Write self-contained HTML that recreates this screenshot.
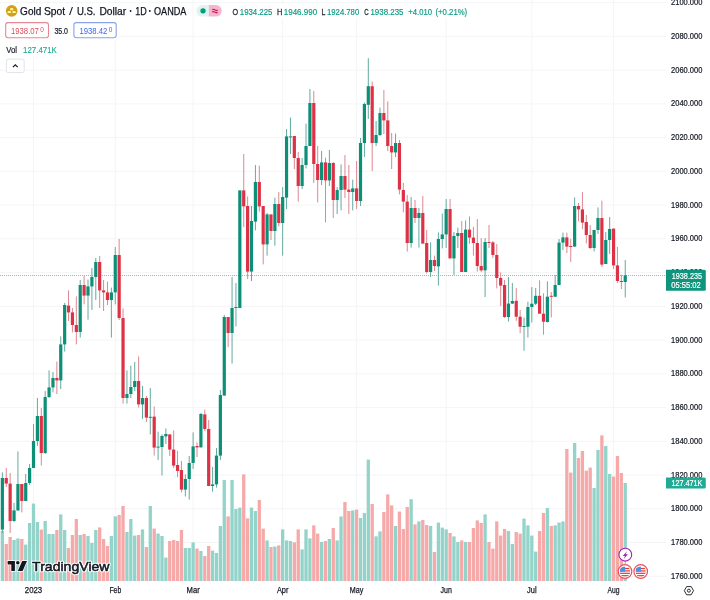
<!DOCTYPE html>
<html><head><meta charset="utf-8">
<style>
html,body{margin:0;padding:0;background:#fff;}
body{width:710px;height:600px;overflow:hidden;position:relative;font-family:"Liberation Sans",sans-serif;}
svg{position:absolute;left:0;top:0;will-change:transform;}
</style></head><body>
<svg width="710" height="600" viewBox="0 0 710 600" font-family="Liberation Sans, sans-serif">
<rect width="710" height="600" fill="#fff"/>
<rect x="0" y="2.16" width="666" height="1" fill="#f4f5f7"/>
<rect x="0" y="35.90" width="666" height="1" fill="#f4f5f7"/>
<rect x="0" y="69.64" width="666" height="1" fill="#f4f5f7"/>
<rect x="0" y="103.38" width="666" height="1" fill="#f4f5f7"/>
<rect x="0" y="137.12" width="666" height="1" fill="#f4f5f7"/>
<rect x="0" y="170.86" width="666" height="1" fill="#f4f5f7"/>
<rect x="0" y="204.60" width="666" height="1" fill="#f4f5f7"/>
<rect x="0" y="238.34" width="666" height="1" fill="#f4f5f7"/>
<rect x="0" y="272.08" width="666" height="1" fill="#f4f5f7"/>
<rect x="0" y="305.82" width="666" height="1" fill="#f4f5f7"/>
<rect x="0" y="339.56" width="666" height="1" fill="#f4f5f7"/>
<rect x="0" y="373.30" width="666" height="1" fill="#f4f5f7"/>
<rect x="0" y="407.04" width="666" height="1" fill="#f4f5f7"/>
<rect x="0" y="440.78" width="666" height="1" fill="#f4f5f7"/>
<rect x="0" y="474.52" width="666" height="1" fill="#f4f5f7"/>
<rect x="0" y="508.26" width="666" height="1" fill="#f4f5f7"/>
<rect x="0" y="542.00" width="666" height="1" fill="#f4f5f7"/>
<rect x="0" y="575.74" width="666" height="1" fill="#f4f5f7"/>
<rect x="33.00" y="0" width="1" height="581" fill="#f4f5f7"/>
<rect x="114.76" y="0" width="1" height="581" fill="#f4f5f7"/>
<rect x="192.62" y="0" width="1" height="581" fill="#f4f5f7"/>
<rect x="282.16" y="0" width="1" height="581" fill="#f4f5f7"/>
<rect x="356.12" y="0" width="1" height="581" fill="#f4f5f7"/>
<rect x="445.66" y="0" width="1" height="581" fill="#f4f5f7"/>
<rect x="531.31" y="0" width="1" height="581" fill="#f4f5f7"/>
<rect x="613.06" y="0" width="1" height="581" fill="#f4f5f7"/>
<rect x="0.71" y="531.0" width="3.3" height="50.0" fill="#93d3c9"/>
<rect x="4.60" y="544.0" width="3.3" height="37.0" fill="#f6a9a9"/>
<rect x="8.50" y="537.0" width="3.3" height="44.0" fill="#f6a9a9"/>
<rect x="12.39" y="540.0" width="3.3" height="41.0" fill="#93d3c9"/>
<rect x="16.28" y="538.4" width="3.3" height="42.6" fill="#93d3c9"/>
<rect x="20.18" y="539.0" width="3.3" height="42.0" fill="#f6a9a9"/>
<rect x="24.07" y="544.6" width="3.3" height="36.4" fill="#93d3c9"/>
<rect x="27.96" y="523.0" width="3.3" height="58.0" fill="#93d3c9"/>
<rect x="31.85" y="503.6" width="3.3" height="77.4" fill="#93d3c9"/>
<rect x="35.75" y="522.0" width="3.3" height="59.0" fill="#93d3c9"/>
<rect x="39.64" y="529.6" width="3.3" height="51.4" fill="#f6a9a9"/>
<rect x="43.53" y="521.0" width="3.3" height="60.0" fill="#93d3c9"/>
<rect x="47.43" y="534.0" width="3.3" height="47.0" fill="#93d3c9"/>
<rect x="51.32" y="534.0" width="3.3" height="47.0" fill="#93d3c9"/>
<rect x="55.21" y="530.0" width="3.3" height="51.0" fill="#f6a9a9"/>
<rect x="59.10" y="514.4" width="3.3" height="66.6" fill="#93d3c9"/>
<rect x="63.00" y="530.0" width="3.3" height="51.0" fill="#93d3c9"/>
<rect x="66.89" y="548.0" width="3.3" height="33.0" fill="#f6a9a9"/>
<rect x="70.78" y="535.0" width="3.3" height="46.0" fill="#f6a9a9"/>
<rect x="74.68" y="519.0" width="3.3" height="62.0" fill="#f6a9a9"/>
<rect x="78.57" y="535.0" width="3.3" height="46.0" fill="#93d3c9"/>
<rect x="82.46" y="534.0" width="3.3" height="47.0" fill="#f6a9a9"/>
<rect x="86.36" y="536.0" width="3.3" height="45.0" fill="#93d3c9"/>
<rect x="90.25" y="543.0" width="3.3" height="38.0" fill="#93d3c9"/>
<rect x="94.14" y="530.0" width="3.3" height="51.0" fill="#93d3c9"/>
<rect x="98.03" y="527.4" width="3.3" height="53.6" fill="#f6a9a9"/>
<rect x="101.93" y="539.0" width="3.3" height="42.0" fill="#f6a9a9"/>
<rect x="105.82" y="546.0" width="3.3" height="35.0" fill="#f6a9a9"/>
<rect x="109.71" y="536.0" width="3.3" height="45.0" fill="#93d3c9"/>
<rect x="113.61" y="516.4" width="3.3" height="64.6" fill="#93d3c9"/>
<rect x="117.50" y="515.0" width="3.3" height="66.0" fill="#f6a9a9"/>
<rect x="121.39" y="506.0" width="3.3" height="75.0" fill="#f6a9a9"/>
<rect x="125.29" y="532.0" width="3.3" height="49.0" fill="#93d3c9"/>
<rect x="129.18" y="519.0" width="3.3" height="62.0" fill="#93d3c9"/>
<rect x="133.07" y="535.6" width="3.3" height="45.4" fill="#93d3c9"/>
<rect x="136.97" y="535.0" width="3.3" height="46.0" fill="#f6a9a9"/>
<rect x="140.86" y="529.4" width="3.3" height="51.6" fill="#93d3c9"/>
<rect x="144.75" y="547.0" width="3.3" height="34.0" fill="#f6a9a9"/>
<rect x="148.64" y="506.0" width="3.3" height="75.0" fill="#93d3c9"/>
<rect x="152.54" y="528.6" width="3.3" height="52.4" fill="#f6a9a9"/>
<rect x="156.43" y="533.6" width="3.3" height="47.4" fill="#93d3c9"/>
<rect x="160.32" y="536.0" width="3.3" height="45.0" fill="#93d3c9"/>
<rect x="164.22" y="557.6" width="3.3" height="23.4" fill="#93d3c9"/>
<rect x="168.11" y="541.0" width="3.3" height="40.0" fill="#f6a9a9"/>
<rect x="172.00" y="540.0" width="3.3" height="41.0" fill="#f6a9a9"/>
<rect x="175.90" y="541.0" width="3.3" height="40.0" fill="#f6a9a9"/>
<rect x="179.79" y="530.0" width="3.3" height="51.0" fill="#f6a9a9"/>
<rect x="183.68" y="548.0" width="3.3" height="33.0" fill="#93d3c9"/>
<rect x="187.57" y="548.0" width="3.3" height="33.0" fill="#93d3c9"/>
<rect x="191.47" y="542.4" width="3.3" height="38.6" fill="#93d3c9"/>
<rect x="195.36" y="548.6" width="3.3" height="32.4" fill="#f6a9a9"/>
<rect x="199.25" y="551.0" width="3.3" height="30.0" fill="#93d3c9"/>
<rect x="203.15" y="556.0" width="3.3" height="25.0" fill="#f6a9a9"/>
<rect x="207.04" y="546.0" width="3.3" height="35.0" fill="#f6a9a9"/>
<rect x="210.93" y="550.6" width="3.3" height="30.4" fill="#93d3c9"/>
<rect x="214.82" y="553.0" width="3.3" height="28.0" fill="#93d3c9"/>
<rect x="218.72" y="526.0" width="3.3" height="55.0" fill="#93d3c9"/>
<rect x="222.61" y="480.0" width="3.3" height="101.0" fill="#93d3c9"/>
<rect x="226.50" y="516.4" width="3.3" height="64.6" fill="#f6a9a9"/>
<rect x="230.40" y="480.0" width="3.3" height="101.0" fill="#93d3c9"/>
<rect x="234.29" y="509.0" width="3.3" height="72.0" fill="#93d3c9"/>
<rect x="238.18" y="507.6" width="3.3" height="73.4" fill="#93d3c9"/>
<rect x="242.08" y="474.4" width="3.3" height="106.6" fill="#f6a9a9"/>
<rect x="245.97" y="518.4" width="3.3" height="62.6" fill="#f6a9a9"/>
<rect x="249.86" y="507.6" width="3.3" height="73.4" fill="#93d3c9"/>
<rect x="253.75" y="511.0" width="3.3" height="70.0" fill="#93d3c9"/>
<rect x="257.65" y="500.0" width="3.3" height="81.0" fill="#f6a9a9"/>
<rect x="261.54" y="528.6" width="3.3" height="52.4" fill="#f6a9a9"/>
<rect x="265.43" y="540.4" width="3.3" height="40.6" fill="#93d3c9"/>
<rect x="269.33" y="547.0" width="3.3" height="34.0" fill="#f6a9a9"/>
<rect x="273.22" y="546.5" width="3.3" height="34.5" fill="#93d3c9"/>
<rect x="277.11" y="545.4" width="3.3" height="35.6" fill="#f6a9a9"/>
<rect x="281.01" y="529.4" width="3.3" height="51.6" fill="#93d3c9"/>
<rect x="284.90" y="540.4" width="3.3" height="40.6" fill="#93d3c9"/>
<rect x="288.79" y="541.0" width="3.3" height="40.0" fill="#93d3c9"/>
<rect x="292.69" y="542.4" width="3.3" height="38.6" fill="#f6a9a9"/>
<rect x="296.58" y="529.4" width="3.3" height="51.6" fill="#f6a9a9"/>
<rect x="300.47" y="549.4" width="3.3" height="31.6" fill="#93d3c9"/>
<rect x="304.36" y="529.4" width="3.3" height="51.6" fill="#93d3c9"/>
<rect x="308.26" y="538.4" width="3.3" height="42.6" fill="#93d3c9"/>
<rect x="312.15" y="525.4" width="3.3" height="55.6" fill="#f6a9a9"/>
<rect x="316.04" y="533.6" width="3.3" height="47.4" fill="#f6a9a9"/>
<rect x="319.94" y="542.0" width="3.3" height="39.0" fill="#93d3c9"/>
<rect x="323.83" y="541.0" width="3.3" height="40.0" fill="#f6a9a9"/>
<rect x="327.72" y="539.0" width="3.3" height="42.0" fill="#93d3c9"/>
<rect x="331.62" y="528.0" width="3.3" height="53.0" fill="#f6a9a9"/>
<rect x="335.51" y="540.4" width="3.3" height="40.6" fill="#93d3c9"/>
<rect x="339.40" y="516.4" width="3.3" height="64.6" fill="#93d3c9"/>
<rect x="343.29" y="502.0" width="3.3" height="79.0" fill="#f6a9a9"/>
<rect x="347.19" y="511.0" width="3.3" height="70.0" fill="#f6a9a9"/>
<rect x="351.08" y="510.4" width="3.3" height="70.6" fill="#93d3c9"/>
<rect x="354.97" y="509.6" width="3.3" height="71.4" fill="#f6a9a9"/>
<rect x="358.87" y="518.0" width="3.3" height="63.0" fill="#93d3c9"/>
<rect x="362.76" y="513.0" width="3.3" height="68.0" fill="#93d3c9"/>
<rect x="366.65" y="459.6" width="3.3" height="121.4" fill="#93d3c9"/>
<rect x="370.55" y="504.0" width="3.3" height="77.0" fill="#f6a9a9"/>
<rect x="374.44" y="536.4" width="3.3" height="44.6" fill="#93d3c9"/>
<rect x="378.33" y="531.4" width="3.3" height="49.6" fill="#93d3c9"/>
<rect x="382.22" y="512.0" width="3.3" height="69.0" fill="#f6a9a9"/>
<rect x="386.12" y="494.4" width="3.3" height="86.6" fill="#f6a9a9"/>
<rect x="390.01" y="505.4" width="3.3" height="75.6" fill="#f6a9a9"/>
<rect x="393.90" y="526.0" width="3.3" height="55.0" fill="#93d3c9"/>
<rect x="397.80" y="511.6" width="3.3" height="69.4" fill="#f6a9a9"/>
<rect x="401.69" y="529.0" width="3.3" height="52.0" fill="#f6a9a9"/>
<rect x="405.58" y="507.0" width="3.3" height="74.0" fill="#f6a9a9"/>
<rect x="409.48" y="499.2" width="3.3" height="81.8" fill="#93d3c9"/>
<rect x="413.37" y="524.4" width="3.3" height="56.6" fill="#f6a9a9"/>
<rect x="417.26" y="521.4" width="3.3" height="59.6" fill="#93d3c9"/>
<rect x="421.15" y="520.0" width="3.3" height="61.0" fill="#f6a9a9"/>
<rect x="425.05" y="525.0" width="3.3" height="56.0" fill="#f6a9a9"/>
<rect x="428.94" y="526.0" width="3.3" height="55.0" fill="#93d3c9"/>
<rect x="432.83" y="552.0" width="3.3" height="29.0" fill="#f6a9a9"/>
<rect x="436.73" y="522.6" width="3.3" height="58.4" fill="#93d3c9"/>
<rect x="440.62" y="527.6" width="3.3" height="53.4" fill="#93d3c9"/>
<rect x="444.51" y="529.4" width="3.3" height="51.6" fill="#93d3c9"/>
<rect x="448.41" y="533.0" width="3.3" height="48.0" fill="#f6a9a9"/>
<rect x="452.30" y="536.4" width="3.3" height="44.6" fill="#93d3c9"/>
<rect x="456.19" y="542.0" width="3.3" height="39.0" fill="#93d3c9"/>
<rect x="460.08" y="540.4" width="3.3" height="40.6" fill="#f6a9a9"/>
<rect x="463.98" y="542.0" width="3.3" height="39.0" fill="#93d3c9"/>
<rect x="467.87" y="542.0" width="3.3" height="39.0" fill="#f6a9a9"/>
<rect x="471.76" y="528.0" width="3.3" height="53.0" fill="#f6a9a9"/>
<rect x="475.66" y="520.4" width="3.3" height="60.6" fill="#f6a9a9"/>
<rect x="479.55" y="523.0" width="3.3" height="58.0" fill="#f6a9a9"/>
<rect x="483.44" y="514.4" width="3.3" height="66.6" fill="#93d3c9"/>
<rect x="487.34" y="542.0" width="3.3" height="39.0" fill="#f6a9a9"/>
<rect x="491.23" y="548.6" width="3.3" height="32.4" fill="#f6a9a9"/>
<rect x="495.12" y="521.4" width="3.3" height="59.6" fill="#f6a9a9"/>
<rect x="499.01" y="535.6" width="3.3" height="45.4" fill="#f6a9a9"/>
<rect x="502.91" y="529.0" width="3.3" height="52.0" fill="#f6a9a9"/>
<rect x="506.80" y="531.0" width="3.3" height="50.0" fill="#93d3c9"/>
<rect x="510.69" y="544.0" width="3.3" height="37.0" fill="#93d3c9"/>
<rect x="514.59" y="532.0" width="3.3" height="49.0" fill="#f6a9a9"/>
<rect x="518.48" y="533.6" width="3.3" height="47.4" fill="#f6a9a9"/>
<rect x="522.37" y="518.6" width="3.3" height="62.4" fill="#93d3c9"/>
<rect x="526.26" y="525.4" width="3.3" height="55.6" fill="#93d3c9"/>
<rect x="530.16" y="535.6" width="3.3" height="45.4" fill="#93d3c9"/>
<rect x="534.05" y="551.6" width="3.3" height="29.4" fill="#93d3c9"/>
<rect x="537.94" y="531.0" width="3.3" height="50.0" fill="#f6a9a9"/>
<rect x="541.84" y="513.0" width="3.3" height="68.0" fill="#f6a9a9"/>
<rect x="545.73" y="508.0" width="3.3" height="73.0" fill="#93d3c9"/>
<rect x="549.62" y="526.0" width="3.3" height="55.0" fill="#f6a9a9"/>
<rect x="553.52" y="525.4" width="3.3" height="55.6" fill="#93d3c9"/>
<rect x="557.41" y="522.6" width="3.3" height="58.4" fill="#93d3c9"/>
<rect x="561.30" y="521.4" width="3.3" height="59.6" fill="#93d3c9"/>
<rect x="565.20" y="449.0" width="3.3" height="132.0" fill="#f6a9a9"/>
<rect x="569.09" y="472.6" width="3.3" height="108.4" fill="#f6a9a9"/>
<rect x="572.98" y="443.0" width="3.3" height="138.0" fill="#93d3c9"/>
<rect x="576.87" y="458.0" width="3.3" height="123.0" fill="#f6a9a9"/>
<rect x="580.77" y="451.0" width="3.3" height="130.0" fill="#f6a9a9"/>
<rect x="584.66" y="470.6" width="3.3" height="110.4" fill="#f6a9a9"/>
<rect x="588.55" y="467.6" width="3.3" height="113.4" fill="#f6a9a9"/>
<rect x="592.45" y="488.0" width="3.3" height="93.0" fill="#93d3c9"/>
<rect x="596.34" y="450.0" width="3.3" height="131.0" fill="#93d3c9"/>
<rect x="600.23" y="435.4" width="3.3" height="145.6" fill="#f6a9a9"/>
<rect x="604.12" y="446.0" width="3.3" height="135.0" fill="#93d3c9"/>
<rect x="608.02" y="474.0" width="3.3" height="107.0" fill="#93d3c9"/>
<rect x="611.91" y="476.6" width="3.3" height="104.4" fill="#f6a9a9"/>
<rect x="615.80" y="456.0" width="3.3" height="125.0" fill="#f6a9a9"/>
<rect x="619.70" y="473.0" width="3.3" height="108.0" fill="#f6a9a9"/>
<rect x="623.59" y="483.0" width="3.3" height="98.0" fill="#93d3c9"/>
<line x1="0" y1="275.5" x2="666" y2="275.5" stroke="#8dbdb3" stroke-width="1" stroke-dasharray="1 1"/>
<rect x="1.86" y="472.4" width="1" height="60.6" fill="#62ab9f"/>
<rect x="0.76" y="478.0" width="3.2" height="51.6" fill="#0c8f77"/>
<rect x="5.75" y="468.0" width="1" height="19.0" fill="#dc8892"/>
<rect x="4.65" y="478.0" width="3.2" height="5.6" fill="#dd3145"/>
<rect x="9.65" y="473.0" width="1" height="60.0" fill="#dc8892"/>
<rect x="8.55" y="483.6" width="3.2" height="37.4" fill="#dd3145"/>
<rect x="13.54" y="503.0" width="1" height="19.0" fill="#62ab9f"/>
<rect x="12.44" y="510.4" width="3.2" height="10.6" fill="#0c8f77"/>
<rect x="17.43" y="451.5" width="1" height="59.5" fill="#62ab9f"/>
<rect x="16.33" y="484.0" width="3.2" height="26.4" fill="#0c8f77"/>
<rect x="21.32" y="484.0" width="1" height="28.4" fill="#dc8892"/>
<rect x="20.22" y="484.0" width="3.2" height="17.0" fill="#dd3145"/>
<rect x="25.22" y="474.0" width="1" height="27.0" fill="#62ab9f"/>
<rect x="24.12" y="483.0" width="3.2" height="18.0" fill="#0c8f77"/>
<rect x="29.11" y="464.0" width="1" height="21.0" fill="#62ab9f"/>
<rect x="28.01" y="468.0" width="3.2" height="15.0" fill="#0c8f77"/>
<rect x="33.00" y="424.0" width="1" height="44.0" fill="#62ab9f"/>
<rect x="31.90" y="441.0" width="3.2" height="27.0" fill="#0c8f77"/>
<rect x="36.90" y="398.0" width="1" height="48.0" fill="#62ab9f"/>
<rect x="35.80" y="416.0" width="3.2" height="25.0" fill="#0c8f77"/>
<rect x="40.79" y="408.0" width="1" height="57.6" fill="#dc8892"/>
<rect x="39.69" y="416.0" width="3.2" height="37.0" fill="#dd3145"/>
<rect x="44.68" y="391.0" width="1" height="63.0" fill="#62ab9f"/>
<rect x="43.58" y="397.0" width="3.2" height="56.0" fill="#0c8f77"/>
<rect x="48.58" y="370.4" width="1" height="27.6" fill="#62ab9f"/>
<rect x="47.48" y="387.4" width="3.2" height="9.6" fill="#0c8f77"/>
<rect x="52.47" y="372.0" width="1" height="20.4" fill="#62ab9f"/>
<rect x="51.37" y="378.0" width="3.2" height="9.4" fill="#0c8f77"/>
<rect x="56.36" y="361.6" width="1" height="32.4" fill="#dc8892"/>
<rect x="55.26" y="378.0" width="3.2" height="2.4" fill="#dd3145"/>
<rect x="60.25" y="336.4" width="1" height="52.6" fill="#62ab9f"/>
<rect x="59.15" y="344.4" width="3.2" height="36.0" fill="#0c8f77"/>
<rect x="64.15" y="303.0" width="1" height="48.6" fill="#62ab9f"/>
<rect x="63.05" y="305.0" width="3.2" height="39.4" fill="#0c8f77"/>
<rect x="68.04" y="290.4" width="1" height="30.6" fill="#dc8892"/>
<rect x="66.94" y="305.6" width="3.2" height="6.8" fill="#dd3145"/>
<rect x="71.93" y="308.0" width="1" height="24.4" fill="#dc8892"/>
<rect x="70.83" y="312.4" width="3.2" height="12.6" fill="#dd3145"/>
<rect x="75.83" y="296.4" width="1" height="48.0" fill="#dc8892"/>
<rect x="74.73" y="325.0" width="3.2" height="7.0" fill="#dd3145"/>
<rect x="79.72" y="280.0" width="1" height="57.6" fill="#62ab9f"/>
<rect x="78.62" y="285.0" width="3.2" height="47.0" fill="#0c8f77"/>
<rect x="83.61" y="276.0" width="1" height="28.4" fill="#dc8892"/>
<rect x="82.51" y="285.0" width="3.2" height="10.6" fill="#dd3145"/>
<rect x="87.51" y="279.6" width="1" height="40.0" fill="#62ab9f"/>
<rect x="86.41" y="286.4" width="3.2" height="9.2" fill="#0c8f77"/>
<rect x="91.40" y="268.0" width="1" height="42.0" fill="#62ab9f"/>
<rect x="90.30" y="277.0" width="3.2" height="9.4" fill="#0c8f77"/>
<rect x="95.29" y="258.0" width="1" height="42.0" fill="#62ab9f"/>
<rect x="94.19" y="262.0" width="3.2" height="15.0" fill="#0c8f77"/>
<rect x="99.18" y="256.0" width="1" height="52.0" fill="#dc8892"/>
<rect x="98.08" y="262.0" width="3.2" height="28.4" fill="#dd3145"/>
<rect x="103.08" y="280.0" width="1" height="31.0" fill="#dc8892"/>
<rect x="101.98" y="290.4" width="3.2" height="2.0" fill="#dd3145"/>
<rect x="106.97" y="281.6" width="1" height="23.4" fill="#dc8892"/>
<rect x="105.87" y="292.4" width="3.2" height="7.6" fill="#dd3145"/>
<rect x="110.86" y="287.6" width="1" height="50.0" fill="#62ab9f"/>
<rect x="109.76" y="292.4" width="3.2" height="7.6" fill="#0c8f77"/>
<rect x="114.76" y="247.0" width="1" height="57.4" fill="#62ab9f"/>
<rect x="113.66" y="255.0" width="3.2" height="37.4" fill="#0c8f77"/>
<rect x="118.65" y="239.0" width="1" height="81.0" fill="#dc8892"/>
<rect x="117.55" y="255.0" width="3.2" height="63.0" fill="#dd3145"/>
<rect x="122.54" y="308.4" width="1" height="95.2" fill="#dc8892"/>
<rect x="121.44" y="318.0" width="3.2" height="80.0" fill="#dd3145"/>
<rect x="126.44" y="370.4" width="1" height="33.2" fill="#62ab9f"/>
<rect x="125.34" y="394.0" width="3.2" height="4.0" fill="#0c8f77"/>
<rect x="130.33" y="365.6" width="1" height="32.4" fill="#62ab9f"/>
<rect x="129.23" y="387.0" width="3.2" height="7.0" fill="#0c8f77"/>
<rect x="134.22" y="362.0" width="1" height="29.0" fill="#62ab9f"/>
<rect x="133.12" y="381.0" width="3.2" height="6.0" fill="#0c8f77"/>
<rect x="138.12" y="356.4" width="1" height="51.2" fill="#dc8892"/>
<rect x="137.02" y="381.0" width="3.2" height="23.4" fill="#dd3145"/>
<rect x="142.01" y="386.0" width="1" height="33.0" fill="#62ab9f"/>
<rect x="140.91" y="398.0" width="3.2" height="6.4" fill="#0c8f77"/>
<rect x="145.90" y="396.0" width="1" height="26.0" fill="#dc8892"/>
<rect x="144.80" y="398.0" width="3.2" height="19.6" fill="#dd3145"/>
<rect x="149.79" y="388.0" width="1" height="46.4" fill="#62ab9f"/>
<rect x="148.69" y="416.8" width="3.2" height="1.0" fill="#0c8f77"/>
<rect x="153.69" y="406.4" width="1" height="49.2" fill="#dc8892"/>
<rect x="152.59" y="416.6" width="3.2" height="31.0" fill="#dd3145"/>
<rect x="157.58" y="431.6" width="1" height="28.4" fill="#62ab9f"/>
<rect x="156.48" y="446.6" width="3.2" height="1.0" fill="#0c8f77"/>
<rect x="161.47" y="434.4" width="1" height="41.2" fill="#62ab9f"/>
<rect x="160.37" y="436.0" width="3.2" height="11.0" fill="#0c8f77"/>
<rect x="165.37" y="428.4" width="1" height="15.6" fill="#62ab9f"/>
<rect x="164.27" y="434.0" width="3.2" height="2.4" fill="#0c8f77"/>
<rect x="169.26" y="434.4" width="1" height="21.6" fill="#dc8892"/>
<rect x="168.16" y="434.4" width="3.2" height="15.2" fill="#dd3145"/>
<rect x="173.15" y="430.4" width="1" height="37.6" fill="#dc8892"/>
<rect x="172.05" y="449.6" width="3.2" height="16.0" fill="#dd3145"/>
<rect x="177.05" y="451.0" width="1" height="26.0" fill="#dc8892"/>
<rect x="175.95" y="465.0" width="3.2" height="6.0" fill="#dd3145"/>
<rect x="180.94" y="461.0" width="1" height="31.4" fill="#dc8892"/>
<rect x="179.84" y="470.0" width="3.2" height="19.6" fill="#dd3145"/>
<rect x="184.83" y="474.4" width="1" height="22.0" fill="#62ab9f"/>
<rect x="183.73" y="479.0" width="3.2" height="10.6" fill="#0c8f77"/>
<rect x="188.72" y="456.0" width="1" height="43.6" fill="#62ab9f"/>
<rect x="187.62" y="463.0" width="3.2" height="16.0" fill="#0c8f77"/>
<rect x="192.62" y="432.4" width="1" height="36.6" fill="#62ab9f"/>
<rect x="191.52" y="446.4" width="3.2" height="16.6" fill="#0c8f77"/>
<rect x="196.51" y="442.4" width="1" height="14.6" fill="#dc8892"/>
<rect x="195.41" y="446.0" width="3.2" height="1.4" fill="#dd3145"/>
<rect x="200.40" y="413.0" width="1" height="34.4" fill="#62ab9f"/>
<rect x="199.30" y="414.0" width="3.2" height="33.4" fill="#0c8f77"/>
<rect x="204.30" y="409.6" width="1" height="21.4" fill="#dc8892"/>
<rect x="203.20" y="414.4" width="3.2" height="14.6" fill="#dd3145"/>
<rect x="208.19" y="420.0" width="1" height="66.0" fill="#dc8892"/>
<rect x="207.09" y="429.0" width="3.2" height="57.0" fill="#dd3145"/>
<rect x="212.08" y="467.0" width="1" height="24.6" fill="#62ab9f"/>
<rect x="210.98" y="484.4" width="3.2" height="1.6" fill="#0c8f77"/>
<rect x="215.97" y="448.0" width="1" height="39.6" fill="#62ab9f"/>
<rect x="214.88" y="455.6" width="3.2" height="28.8" fill="#0c8f77"/>
<rect x="219.87" y="390.0" width="1" height="70.0" fill="#62ab9f"/>
<rect x="218.77" y="395.0" width="3.2" height="60.6" fill="#0c8f77"/>
<rect x="223.76" y="315.0" width="1" height="80.6" fill="#62ab9f"/>
<rect x="222.66" y="317.0" width="3.2" height="78.6" fill="#0c8f77"/>
<rect x="227.65" y="317.0" width="1" height="30.0" fill="#dc8892"/>
<rect x="226.55" y="317.0" width="3.2" height="16.0" fill="#dd3145"/>
<rect x="231.55" y="277.0" width="1" height="86.6" fill="#62ab9f"/>
<rect x="230.45" y="308.0" width="3.2" height="25.0" fill="#0c8f77"/>
<rect x="235.44" y="283.0" width="1" height="43.4" fill="#62ab9f"/>
<rect x="234.34" y="307.0" width="3.2" height="1.0" fill="#0c8f77"/>
<rect x="239.33" y="190.4" width="1" height="117.6" fill="#62ab9f"/>
<rect x="238.23" y="190.4" width="3.2" height="117.6" fill="#0c8f77"/>
<rect x="243.23" y="154.0" width="1" height="73.0" fill="#dc8892"/>
<rect x="242.13" y="190.4" width="3.2" height="16.0" fill="#dd3145"/>
<rect x="247.12" y="196.4" width="1" height="82.6" fill="#dc8892"/>
<rect x="246.02" y="206.0" width="3.2" height="65.6" fill="#dd3145"/>
<rect x="251.01" y="206.0" width="1" height="75.0" fill="#62ab9f"/>
<rect x="249.91" y="221.0" width="3.2" height="50.6" fill="#0c8f77"/>
<rect x="254.91" y="165.0" width="1" height="65.4" fill="#62ab9f"/>
<rect x="253.81" y="182.0" width="3.2" height="39.6" fill="#0c8f77"/>
<rect x="258.80" y="165.6" width="1" height="46.0" fill="#dc8892"/>
<rect x="257.70" y="182.0" width="3.2" height="24.4" fill="#dd3145"/>
<rect x="262.69" y="206.0" width="1" height="58.4" fill="#dc8892"/>
<rect x="261.59" y="206.0" width="3.2" height="38.4" fill="#dd3145"/>
<rect x="266.58" y="213.0" width="1" height="42.6" fill="#62ab9f"/>
<rect x="265.48" y="214.4" width="3.2" height="30.0" fill="#0c8f77"/>
<rect x="270.48" y="214.4" width="1" height="25.6" fill="#dc8892"/>
<rect x="269.38" y="214.4" width="3.2" height="16.6" fill="#dd3145"/>
<rect x="274.37" y="197.6" width="1" height="48.0" fill="#62ab9f"/>
<rect x="273.27" y="204.0" width="3.2" height="27.0" fill="#0c8f77"/>
<rect x="278.26" y="192.0" width="1" height="34.4" fill="#dc8892"/>
<rect x="277.16" y="204.0" width="3.2" height="19.0" fill="#dd3145"/>
<rect x="282.16" y="187.0" width="1" height="68.6" fill="#62ab9f"/>
<rect x="281.06" y="197.0" width="3.2" height="26.0" fill="#0c8f77"/>
<rect x="286.05" y="129.0" width="1" height="80.0" fill="#62ab9f"/>
<rect x="284.95" y="136.4" width="3.2" height="61.2" fill="#0c8f77"/>
<rect x="289.94" y="117.6" width="1" height="36.4" fill="#62ab9f"/>
<rect x="288.84" y="136.4" width="3.2" height="1.0" fill="#0c8f77"/>
<rect x="293.83" y="136.0" width="1" height="33.0" fill="#dc8892"/>
<rect x="292.73" y="136.0" width="3.2" height="22.0" fill="#dd3145"/>
<rect x="297.73" y="152.0" width="1" height="49.6" fill="#dc8892"/>
<rect x="296.63" y="158.0" width="3.2" height="28.0" fill="#dd3145"/>
<rect x="301.62" y="158.0" width="1" height="31.0" fill="#62ab9f"/>
<rect x="300.52" y="165.0" width="3.2" height="21.0" fill="#0c8f77"/>
<rect x="305.51" y="123.6" width="1" height="44.8" fill="#62ab9f"/>
<rect x="304.41" y="146.0" width="3.2" height="19.0" fill="#0c8f77"/>
<rect x="309.41" y="89.0" width="1" height="57.0" fill="#62ab9f"/>
<rect x="308.31" y="103.0" width="3.2" height="43.0" fill="#0c8f77"/>
<rect x="313.30" y="91.0" width="1" height="92.0" fill="#dc8892"/>
<rect x="312.20" y="103.0" width="3.2" height="61.0" fill="#dd3145"/>
<rect x="317.19" y="146.0" width="1" height="56.4" fill="#dc8892"/>
<rect x="316.09" y="164.0" width="3.2" height="16.0" fill="#dd3145"/>
<rect x="321.09" y="151.0" width="1" height="34.0" fill="#62ab9f"/>
<rect x="319.99" y="162.4" width="3.2" height="17.6" fill="#0c8f77"/>
<rect x="324.98" y="157.6" width="1" height="64.8" fill="#dc8892"/>
<rect x="323.88" y="162.4" width="3.2" height="18.0" fill="#dd3145"/>
<rect x="328.87" y="150.0" width="1" height="36.0" fill="#62ab9f"/>
<rect x="327.77" y="163.0" width="3.2" height="17.4" fill="#0c8f77"/>
<rect x="332.76" y="162.0" width="1" height="56.0" fill="#dc8892"/>
<rect x="331.66" y="163.0" width="3.2" height="37.0" fill="#dd3145"/>
<rect x="336.66" y="187.0" width="1" height="27.0" fill="#62ab9f"/>
<rect x="335.56" y="190.0" width="3.2" height="10.0" fill="#0c8f77"/>
<rect x="340.55" y="164.4" width="1" height="46.0" fill="#62ab9f"/>
<rect x="339.45" y="176.0" width="3.2" height="14.0" fill="#0c8f77"/>
<rect x="344.44" y="155.0" width="1" height="43.0" fill="#dc8892"/>
<rect x="343.34" y="176.0" width="3.2" height="13.6" fill="#dd3145"/>
<rect x="348.34" y="165.0" width="1" height="49.0" fill="#dc8892"/>
<rect x="347.24" y="189.6" width="3.2" height="2.4" fill="#dd3145"/>
<rect x="352.23" y="179.6" width="1" height="30.8" fill="#62ab9f"/>
<rect x="351.13" y="188.4" width="3.2" height="3.6" fill="#0c8f77"/>
<rect x="356.12" y="161.0" width="1" height="48.0" fill="#dc8892"/>
<rect x="355.02" y="188.4" width="3.2" height="12.6" fill="#dd3145"/>
<rect x="360.02" y="138.0" width="1" height="68.0" fill="#62ab9f"/>
<rect x="358.92" y="143.0" width="3.2" height="58.0" fill="#0c8f77"/>
<rect x="363.91" y="102.5" width="1" height="54.5" fill="#62ab9f"/>
<rect x="362.81" y="104.0" width="3.2" height="39.0" fill="#0c8f77"/>
<rect x="367.80" y="58.2" width="1" height="60.8" fill="#62ab9f"/>
<rect x="366.70" y="86.2" width="3.2" height="18.6" fill="#0c8f77"/>
<rect x="371.69" y="81.5" width="1" height="89.5" fill="#dc8892"/>
<rect x="370.59" y="86.2" width="3.2" height="56.8" fill="#dd3145"/>
<rect x="375.59" y="121.0" width="1" height="25.0" fill="#62ab9f"/>
<rect x="374.49" y="135.0" width="3.2" height="8.0" fill="#0c8f77"/>
<rect x="379.48" y="107.6" width="1" height="28.4" fill="#62ab9f"/>
<rect x="378.38" y="113.0" width="3.2" height="22.0" fill="#0c8f77"/>
<rect x="383.37" y="90.0" width="1" height="44.0" fill="#dc8892"/>
<rect x="382.27" y="113.0" width="3.2" height="7.4" fill="#dd3145"/>
<rect x="387.27" y="101.4" width="1" height="49.6" fill="#dc8892"/>
<rect x="386.17" y="120.4" width="3.2" height="25.6" fill="#dd3145"/>
<rect x="391.16" y="133.0" width="1" height="36.0" fill="#dc8892"/>
<rect x="390.06" y="146.0" width="3.2" height="6.4" fill="#dd3145"/>
<rect x="395.05" y="133.6" width="1" height="23.4" fill="#62ab9f"/>
<rect x="393.95" y="143.0" width="3.2" height="9.4" fill="#0c8f77"/>
<rect x="398.95" y="140.0" width="1" height="54.4" fill="#dc8892"/>
<rect x="397.85" y="143.0" width="3.2" height="46.6" fill="#dd3145"/>
<rect x="402.84" y="183.0" width="1" height="29.4" fill="#dc8892"/>
<rect x="401.74" y="190.0" width="3.2" height="11.6" fill="#dd3145"/>
<rect x="406.73" y="195.0" width="1" height="56.6" fill="#dc8892"/>
<rect x="405.63" y="201.6" width="3.2" height="41.4" fill="#dd3145"/>
<rect x="410.62" y="197.0" width="1" height="50.6" fill="#62ab9f"/>
<rect x="409.52" y="208.0" width="3.2" height="35.0" fill="#0c8f77"/>
<rect x="414.52" y="200.0" width="1" height="23.0" fill="#dc8892"/>
<rect x="413.42" y="208.0" width="3.2" height="10.0" fill="#dd3145"/>
<rect x="418.41" y="208.0" width="1" height="39.6" fill="#62ab9f"/>
<rect x="417.31" y="213.0" width="3.2" height="5.0" fill="#0c8f77"/>
<rect x="422.30" y="196.0" width="1" height="47.6" fill="#dc8892"/>
<rect x="421.20" y="213.0" width="3.2" height="30.6" fill="#dd3145"/>
<rect x="426.20" y="230.0" width="1" height="43.6" fill="#dc8892"/>
<rect x="425.10" y="243.0" width="3.2" height="29.0" fill="#dd3145"/>
<rect x="430.09" y="242.4" width="1" height="34.6" fill="#62ab9f"/>
<rect x="428.99" y="260.0" width="3.2" height="12.0" fill="#0c8f77"/>
<rect x="433.98" y="255.6" width="1" height="15.4" fill="#dc8892"/>
<rect x="432.88" y="260.0" width="3.2" height="6.0" fill="#dd3145"/>
<rect x="437.88" y="232.4" width="1" height="53.2" fill="#62ab9f"/>
<rect x="436.78" y="239.0" width="3.2" height="27.4" fill="#0c8f77"/>
<rect x="441.77" y="213.6" width="1" height="34.8" fill="#62ab9f"/>
<rect x="440.67" y="234.4" width="3.2" height="4.6" fill="#0c8f77"/>
<rect x="445.66" y="199.0" width="1" height="49.0" fill="#62ab9f"/>
<rect x="444.56" y="209.0" width="3.2" height="25.4" fill="#0c8f77"/>
<rect x="449.56" y="199.0" width="1" height="59.4" fill="#dc8892"/>
<rect x="448.45" y="209.0" width="3.2" height="49.4" fill="#dd3145"/>
<rect x="453.45" y="232.0" width="1" height="43.0" fill="#62ab9f"/>
<rect x="452.35" y="236.0" width="3.2" height="22.4" fill="#0c8f77"/>
<rect x="457.34" y="227.6" width="1" height="20.4" fill="#62ab9f"/>
<rect x="456.24" y="233.0" width="3.2" height="3.0" fill="#0c8f77"/>
<rect x="461.23" y="221.0" width="1" height="51.0" fill="#dc8892"/>
<rect x="460.13" y="233.0" width="3.2" height="39.0" fill="#dd3145"/>
<rect x="465.13" y="220.4" width="1" height="51.6" fill="#62ab9f"/>
<rect x="464.03" y="229.6" width="3.2" height="42.4" fill="#0c8f77"/>
<rect x="469.02" y="216.4" width="1" height="27.2" fill="#dc8892"/>
<rect x="467.92" y="229.6" width="3.2" height="8.0" fill="#dd3145"/>
<rect x="472.91" y="227.0" width="1" height="28.6" fill="#dc8892"/>
<rect x="471.81" y="237.6" width="3.2" height="5.4" fill="#dd3145"/>
<rect x="476.81" y="219.0" width="1" height="52.6" fill="#dc8892"/>
<rect x="475.71" y="243.0" width="3.2" height="23.0" fill="#dd3145"/>
<rect x="480.70" y="238.0" width="1" height="34.0" fill="#dc8892"/>
<rect x="479.60" y="266.0" width="3.2" height="4.4" fill="#dd3145"/>
<rect x="484.59" y="238.0" width="1" height="59.0" fill="#62ab9f"/>
<rect x="483.49" y="242.0" width="3.2" height="28.4" fill="#0c8f77"/>
<rect x="488.49" y="225.0" width="1" height="23.0" fill="#dc8892"/>
<rect x="487.38" y="242.0" width="3.2" height="1.0" fill="#dd3145"/>
<rect x="492.38" y="241.0" width="1" height="17.0" fill="#dc8892"/>
<rect x="491.28" y="242.4" width="3.2" height="12.6" fill="#dd3145"/>
<rect x="496.27" y="244.0" width="1" height="44.4" fill="#dc8892"/>
<rect x="495.17" y="255.0" width="3.2" height="23.0" fill="#dd3145"/>
<rect x="500.16" y="272.4" width="1" height="33.6" fill="#dc8892"/>
<rect x="499.06" y="278.0" width="3.2" height="7.6" fill="#dd3145"/>
<rect x="504.06" y="280.0" width="1" height="38.0" fill="#dc8892"/>
<rect x="502.96" y="285.0" width="3.2" height="32.0" fill="#dd3145"/>
<rect x="507.95" y="277.0" width="1" height="44.6" fill="#62ab9f"/>
<rect x="506.85" y="303.6" width="3.2" height="13.4" fill="#0c8f77"/>
<rect x="511.84" y="283.0" width="1" height="21.0" fill="#62ab9f"/>
<rect x="510.74" y="301.0" width="3.2" height="2.6" fill="#0c8f77"/>
<rect x="515.74" y="288.0" width="1" height="32.8" fill="#dc8892"/>
<rect x="514.64" y="300.8" width="3.2" height="15.9" fill="#dd3145"/>
<rect x="519.63" y="310.0" width="1" height="23.3" fill="#dc8892"/>
<rect x="518.53" y="316.7" width="3.2" height="10.0" fill="#dd3145"/>
<rect x="523.52" y="317.5" width="1" height="33.3" fill="#62ab9f"/>
<rect x="522.42" y="326.0" width="3.2" height="1.0" fill="#0c8f77"/>
<rect x="527.41" y="301.7" width="1" height="35.8" fill="#62ab9f"/>
<rect x="526.31" y="307.0" width="3.2" height="19.7" fill="#0c8f77"/>
<rect x="531.31" y="287.0" width="1" height="35.5" fill="#62ab9f"/>
<rect x="530.21" y="303.7" width="3.2" height="3.3" fill="#0c8f77"/>
<rect x="535.20" y="288.0" width="1" height="17.0" fill="#62ab9f"/>
<rect x="534.10" y="295.8" width="3.2" height="7.9" fill="#0c8f77"/>
<rect x="539.09" y="280.3" width="1" height="33.4" fill="#dc8892"/>
<rect x="537.99" y="295.8" width="3.2" height="17.9" fill="#dd3145"/>
<rect x="542.99" y="293.3" width="1" height="41.4" fill="#dc8892"/>
<rect x="541.89" y="313.7" width="3.2" height="8.0" fill="#dd3145"/>
<rect x="546.88" y="281.3" width="1" height="41.2" fill="#62ab9f"/>
<rect x="545.78" y="296.7" width="3.2" height="25.3" fill="#0c8f77"/>
<rect x="550.77" y="292.0" width="1" height="25.5" fill="#dc8892"/>
<rect x="549.67" y="295.8" width="3.2" height="1.0" fill="#dd3145"/>
<rect x="554.67" y="275.0" width="1" height="22.0" fill="#62ab9f"/>
<rect x="553.57" y="285.0" width="3.2" height="11.7" fill="#0c8f77"/>
<rect x="558.56" y="239.0" width="1" height="46.0" fill="#62ab9f"/>
<rect x="557.46" y="242.6" width="3.2" height="42.4" fill="#0c8f77"/>
<rect x="562.45" y="232.6" width="1" height="17.4" fill="#62ab9f"/>
<rect x="561.35" y="237.4" width="3.2" height="5.2" fill="#0c8f77"/>
<rect x="566.35" y="232.6" width="1" height="20.4" fill="#dc8892"/>
<rect x="565.25" y="237.4" width="3.2" height="9.2" fill="#dd3145"/>
<rect x="570.24" y="238.6" width="1" height="23.4" fill="#dc8892"/>
<rect x="569.14" y="246.0" width="3.2" height="1.0" fill="#dd3145"/>
<rect x="574.13" y="197.4" width="1" height="49.2" fill="#62ab9f"/>
<rect x="573.03" y="206.0" width="3.2" height="40.6" fill="#0c8f77"/>
<rect x="578.02" y="203.0" width="1" height="18.4" fill="#dc8892"/>
<rect x="576.92" y="206.0" width="3.2" height="3.4" fill="#dd3145"/>
<rect x="581.92" y="192.0" width="1" height="37.0" fill="#dc8892"/>
<rect x="580.82" y="209.4" width="3.2" height="13.2" fill="#dd3145"/>
<rect x="585.81" y="215.0" width="1" height="28.4" fill="#dc8892"/>
<rect x="584.71" y="222.0" width="3.2" height="13.0" fill="#dd3145"/>
<rect x="589.70" y="225.0" width="1" height="24.0" fill="#dc8892"/>
<rect x="588.60" y="235.0" width="3.2" height="13.0" fill="#dd3145"/>
<rect x="593.60" y="230.0" width="1" height="21.4" fill="#62ab9f"/>
<rect x="592.50" y="230.0" width="3.2" height="18.0" fill="#0c8f77"/>
<rect x="597.49" y="207.4" width="1" height="26.6" fill="#62ab9f"/>
<rect x="596.39" y="218.0" width="3.2" height="12.0" fill="#0c8f77"/>
<rect x="601.38" y="200.6" width="1" height="66.4" fill="#dc8892"/>
<rect x="600.28" y="218.0" width="3.2" height="46.6" fill="#dd3145"/>
<rect x="605.27" y="232.0" width="1" height="32.0" fill="#62ab9f"/>
<rect x="604.17" y="240.0" width="3.2" height="24.0" fill="#0c8f77"/>
<rect x="609.17" y="217.0" width="1" height="37.0" fill="#62ab9f"/>
<rect x="608.07" y="229.0" width="3.2" height="11.0" fill="#0c8f77"/>
<rect x="613.06" y="228.6" width="1" height="40.4" fill="#dc8892"/>
<rect x="611.96" y="228.6" width="3.2" height="36.8" fill="#dd3145"/>
<rect x="616.95" y="247.0" width="1" height="36.0" fill="#dc8892"/>
<rect x="615.85" y="265.4" width="3.2" height="15.6" fill="#dd3145"/>
<rect x="620.85" y="274.6" width="1" height="14.4" fill="#dc8892"/>
<rect x="619.75" y="281.0" width="3.2" height="1.0" fill="#dd3145"/>
<rect x="624.74" y="260.0" width="1" height="37.4" fill="#62ab9f"/>
<rect x="623.64" y="275.4" width="3.2" height="6.6" fill="#0c8f77"/>
<g transform="translate(7.6,561)">
<path d="M0 0 H7.3 V10 H3.7 V3.6 H0 Z" fill="#131722" stroke="#fff" stroke-width="1.4" paint-order="stroke"/>
<circle cx="10.2" cy="1.8" r="1.8" fill="#131722" stroke="#fff" stroke-width="1.4" paint-order="stroke"/>
<path d="M14.6 0 H19.4 L15.0 10 H10.2 Z" fill="#131722" stroke="#fff" stroke-width="1.4" paint-order="stroke"/>
</g>
<text x="32.1" y="571.1" font-size="13.2" fill="#fff" textLength="77.4" lengthAdjust="spacingAndGlyphs" stroke="#fff" stroke-width="2.6" stroke-linejoin="round">TradingView</text>
<text x="32.1" y="571.1" font-size="13.2" fill="#131722" textLength="77.4" lengthAdjust="spacingAndGlyphs" stroke="#131722" stroke-width="0.55" stroke-linejoin="round">TradingView</text>
<text x="702.4" y="5.159999999999997" font-size="8.5" fill="#131722" textLength="31.3" lengthAdjust="spacingAndGlyphs" text-anchor="end" stroke="#131722" stroke-width="0.2">2100.000</text>
<text x="702.4" y="38.9" font-size="8.5" fill="#131722" textLength="31.3" lengthAdjust="spacingAndGlyphs" text-anchor="end" stroke="#131722" stroke-width="0.2">2080.000</text>
<text x="702.4" y="72.64" font-size="8.5" fill="#131722" textLength="31.3" lengthAdjust="spacingAndGlyphs" text-anchor="end" stroke="#131722" stroke-width="0.2">2060.000</text>
<text x="702.4" y="106.38" font-size="8.5" fill="#131722" textLength="31.3" lengthAdjust="spacingAndGlyphs" text-anchor="end" stroke="#131722" stroke-width="0.2">2040.000</text>
<text x="702.4" y="140.12" font-size="8.5" fill="#131722" textLength="31.3" lengthAdjust="spacingAndGlyphs" text-anchor="end" stroke="#131722" stroke-width="0.2">2020.000</text>
<text x="702.4" y="173.86" font-size="8.5" fill="#131722" textLength="31.3" lengthAdjust="spacingAndGlyphs" text-anchor="end" stroke="#131722" stroke-width="0.2">2000.000</text>
<text x="702.4" y="207.60000000000002" font-size="8.5" fill="#131722" textLength="31.3" lengthAdjust="spacingAndGlyphs" text-anchor="end" stroke="#131722" stroke-width="0.2">1980.000</text>
<text x="702.4" y="241.34" font-size="8.5" fill="#131722" textLength="31.3" lengthAdjust="spacingAndGlyphs" text-anchor="end" stroke="#131722" stroke-width="0.2">1960.000</text>
<text x="702.4" y="275.08" font-size="8.5" fill="#131722" textLength="31.3" lengthAdjust="spacingAndGlyphs" text-anchor="end" stroke="#131722" stroke-width="0.2">1940.000</text>
<text x="702.4" y="308.82" font-size="8.5" fill="#131722" textLength="31.3" lengthAdjust="spacingAndGlyphs" text-anchor="end" stroke="#131722" stroke-width="0.2">1920.000</text>
<text x="702.4" y="342.56" font-size="8.5" fill="#131722" textLength="31.3" lengthAdjust="spacingAndGlyphs" text-anchor="end" stroke="#131722" stroke-width="0.2">1900.000</text>
<text x="702.4" y="376.3" font-size="8.5" fill="#131722" textLength="31.3" lengthAdjust="spacingAndGlyphs" text-anchor="end" stroke="#131722" stroke-width="0.2">1880.000</text>
<text x="702.4" y="410.03999999999996" font-size="8.5" fill="#131722" textLength="31.3" lengthAdjust="spacingAndGlyphs" text-anchor="end" stroke="#131722" stroke-width="0.2">1860.000</text>
<text x="702.4" y="443.78" font-size="8.5" fill="#131722" textLength="31.3" lengthAdjust="spacingAndGlyphs" text-anchor="end" stroke="#131722" stroke-width="0.2">1840.000</text>
<text x="702.4" y="477.52" font-size="8.5" fill="#131722" textLength="31.3" lengthAdjust="spacingAndGlyphs" text-anchor="end" stroke="#131722" stroke-width="0.2">1820.000</text>
<text x="702.4" y="511.26" font-size="8.5" fill="#131722" textLength="31.3" lengthAdjust="spacingAndGlyphs" text-anchor="end" stroke="#131722" stroke-width="0.2">1800.000</text>
<text x="702.4" y="545.0" font-size="8.5" fill="#131722" textLength="31.3" lengthAdjust="spacingAndGlyphs" text-anchor="end" stroke="#131722" stroke-width="0.2">1780.000</text>
<text x="702.4" y="578.74" font-size="8.5" fill="#131722" textLength="31.3" lengthAdjust="spacingAndGlyphs" text-anchor="end" stroke="#131722" stroke-width="0.2">1760.000</text>
<path d="M666 269.8 H704.3 a1.5 1.5 0 0 1 1.5 1.5 V289.3 a1.5 1.5 0 0 1 -1.5 1.5 H666 Z" fill="#0f957e"/>
<text x="702.1" y="278.9" font-size="8.6" fill="#fff" textLength="30.4" lengthAdjust="spacingAndGlyphs" text-anchor="end" stroke="#fff" stroke-width="0.2">1938.235</text>
<text x="700.7" y="288.4" font-size="8.6" fill="#fff" textLength="29.4" lengthAdjust="spacingAndGlyphs" text-anchor="end" stroke="#fff" stroke-width="0.2">05:55:02</text>
<path d="M666 477.4 H704.3 a1.5 1.5 0 0 1 1.5 1.5 V487.1 a1.5 1.5 0 0 1 -1.5 1.5 H666 Z" fill="#22ab94"/>
<text x="702.4" y="486.1" font-size="8.6" fill="#fff" textLength="31" lengthAdjust="spacingAndGlyphs" text-anchor="end" stroke="#fff" stroke-width="0.2">127.471K</text>
<text x="33.5" y="593.2" font-size="9" fill="#131722" textLength="17.4" lengthAdjust="spacingAndGlyphs" text-anchor="middle" stroke="#131722" stroke-width="0.25">2023</text>
<text x="115.3" y="593.2" font-size="9" fill="#131722" textLength="11.8" lengthAdjust="spacingAndGlyphs" text-anchor="middle" stroke="#131722" stroke-width="0.25">Feb</text>
<text x="193.1" y="593.2" font-size="9" fill="#131722" textLength="13.2" lengthAdjust="spacingAndGlyphs" text-anchor="middle" stroke="#131722" stroke-width="0.25">Mar</text>
<text x="282.7" y="593.2" font-size="9" fill="#131722" textLength="11.5" lengthAdjust="spacingAndGlyphs" text-anchor="middle" stroke="#131722" stroke-width="0.25">Apr</text>
<text x="356.6" y="593.2" font-size="9" fill="#131722" textLength="13.5" lengthAdjust="spacingAndGlyphs" text-anchor="middle" stroke="#131722" stroke-width="0.25">May</text>
<text x="446.2" y="593.2" font-size="9" fill="#131722" textLength="11.2" lengthAdjust="spacingAndGlyphs" text-anchor="middle" stroke="#131722" stroke-width="0.25">Jun</text>
<text x="531.8" y="593.2" font-size="9" fill="#131722" textLength="9.5" lengthAdjust="spacingAndGlyphs" text-anchor="middle" stroke="#131722" stroke-width="0.25">Jul</text>
<text x="613.6" y="593.2" font-size="9" fill="#131722" textLength="12.1" lengthAdjust="spacingAndGlyphs" text-anchor="middle" stroke="#131722" stroke-width="0.25">Aug</text>
<g transform="translate(688.9,590.7)" fill="none" stroke="#131722" stroke-width="0.9">
<path d="M-2.3 -4.1 H2.3 L4.6 0 L2.3 4.1 H-2.3 L-4.6 0 Z"/>
<circle r="1.5"/></g>
<rect x="623.2" y="558" width="5" height="9" fill="#fff"/>
<line x1="625.3" y1="560" x2="625.3" y2="566" stroke="#b8c8d8" stroke-width="1.4"/>
<circle cx="625.3" cy="554.7" r="6.4" fill="#fff" stroke="#9c27b0" stroke-width="1.1"/>
<path d="M627.0 551.3 L622.7 556.0 H625.0 L623.6 559.2 L627.9 554.3 H625.6 Z" fill="#9c27b0"/>
<g transform="translate(625.0,571.5)">
<circle r="6.8" fill="#fff" stroke="#e8505c" stroke-width="1.2"/>
<clipPath id="fc625"><circle r="5.3"/></clipPath>
<g clip-path="url(#fc625)">
<rect x="-5" y="-5" width="10" height="10" fill="#fff"/>
<rect x="-5" y="-3.6" width="10" height="1.2" fill="#e53935"/>
<rect x="-5" y="-1.2" width="10" height="1.2" fill="#e53935"/>
<rect x="-5" y="1.2" width="10" height="1.2" fill="#e53935"/>
<rect x="-5" y="3.6" width="10" height="1.4" fill="#e53935"/>
<rect x="-5" y="-5" width="5.2" height="5.2" fill="#4a8fe0"/>
</g></g>
<g transform="translate(640.7,571.5)">
<circle r="6.8" fill="#fff" stroke="#e8505c" stroke-width="1.2"/>
<clipPath id="fc640"><circle r="5.3"/></clipPath>
<g clip-path="url(#fc640)">
<rect x="-5" y="-5" width="10" height="10" fill="#fff"/>
<rect x="-5" y="-3.6" width="10" height="1.2" fill="#e53935"/>
<rect x="-5" y="-1.2" width="10" height="1.2" fill="#e53935"/>
<rect x="-5" y="1.2" width="10" height="1.2" fill="#e53935"/>
<rect x="-5" y="3.6" width="10" height="1.4" fill="#e53935"/>
<rect x="-5" y="-5" width="5.2" height="5.2" fill="#4a8fe0"/>
</g></g>
<rect x="3" y="3.6" width="185" height="15" fill="#fff"/>
<rect x="231" y="4.5" width="238" height="14" fill="#fff"/>
<rect x="3" y="20.5" width="116" height="19.5" fill="#fff"/>
<rect x="3" y="42.5" width="57" height="13" fill="#fff"/>
<circle cx="11.7" cy="10.9" r="5.8" fill="#d4a015"/>
<path d="M9.8 10.3 L10.5 8.0 H12.9 L13.6 10.3 Z" fill="#fff4a3"/>
<path d="M7.3 13.1 L8.0 10.9 H10.5 L11.2 13.1 Z" fill="#fff4a3"/>
<path d="M12.1 13.1 L12.8 10.9 H15.3 L16.0 13.1 Z" fill="#fff4a3"/>
<text x="20.1" y="14.6" font-size="10.3" fill="#131722" textLength="21.2" lengthAdjust="spacingAndGlyphs" stroke="#131722" stroke-width="0.25">Gold</text>
<text x="44.0" y="14.6" font-size="10.3" fill="#131722" textLength="21.2" lengthAdjust="spacingAndGlyphs" stroke="#131722" stroke-width="0.25">Spot</text>
<text x="69.0" y="14.6" font-size="10.3" fill="#131722" textLength="4.0" lengthAdjust="spacingAndGlyphs">/</text>
<text x="76.89999999999999" y="14.6" font-size="10.3" fill="#131722" textLength="18.6" lengthAdjust="spacingAndGlyphs" stroke="#131722" stroke-width="0.25">U.S.</text>
<text x="99.39999999999999" y="14.6" font-size="10.3" fill="#131722" textLength="26.8" lengthAdjust="spacingAndGlyphs" stroke="#131722" stroke-width="0.25">Dollar</text>
<text x="135.2" y="14.6" font-size="10.3" fill="#131722" textLength="11.5" lengthAdjust="spacingAndGlyphs" stroke="#131722" stroke-width="0.25">1D</text>
<text x="154.0" y="14.6" font-size="10.3" fill="#131722" textLength="32.4" lengthAdjust="spacingAndGlyphs" stroke="#131722" stroke-width="0.25">OANDA</text>
<circle cx="130.6" cy="11" r="0.9" fill="#131722"/><circle cx="149.8" cy="11" r="0.9" fill="#131722"/>
<path d="M202.1 5.1 H208.9 V16.6 H202.1 a5.75 5.75 0 0 1 0 -11.5 Z" fill="#e3f3f0"/>
<path d="M208.9 5.1 H216 a5.75 5.75 0 0 1 0 11.5 H208.9 Z" fill="#f7b5cd"/>
<circle cx="203" cy="10.8" r="3.4" fill="#c9f3ec"/>
<circle cx="203" cy="10.8" r="2.6" fill="#089981"/>
<path d="M212.2 9.9 q1.3 -1.3 2.7 0 t2.7 0 M212.2 12.2 q1.3 -1.3 2.7 0 t2.7 0" fill="none" stroke="#c2185b" stroke-width="1.1"/>
<text x="232.5" y="15.1" font-size="9.2" fill="#2a2e39" textLength="5.6" lengthAdjust="spacingAndGlyphs" stroke="#2a2e39" stroke-width="0.3">O</text>
<text x="239.8" y="15.1" font-size="8.6" fill="#089981" textLength="32.6" lengthAdjust="spacingAndGlyphs" stroke="#089981" stroke-width="0.15">1934.225</text>
<text x="277" y="15.1" font-size="9.2" fill="#2a2e39" textLength="5.3" lengthAdjust="spacingAndGlyphs" stroke="#2a2e39" stroke-width="0.3">H</text>
<text x="283.8" y="15.1" font-size="8.6" fill="#089981" textLength="33.3" lengthAdjust="spacingAndGlyphs" stroke="#089981" stroke-width="0.15">1946.990</text>
<text x="321.4" y="15.1" font-size="9.2" fill="#2a2e39" textLength="3.9" lengthAdjust="spacingAndGlyphs" stroke="#2a2e39" stroke-width="0.3">L</text>
<text x="327" y="15.1" font-size="8.6" fill="#089981" textLength="32.2" lengthAdjust="spacingAndGlyphs" stroke="#089981" stroke-width="0.15">1924.780</text>
<text x="364.2" y="15.1" font-size="9.2" fill="#2a2e39" textLength="4.4" lengthAdjust="spacingAndGlyphs" stroke="#2a2e39" stroke-width="0.3">C</text>
<text x="370.4" y="15.1" font-size="8.6" fill="#089981" textLength="33.1" lengthAdjust="spacingAndGlyphs" stroke="#089981" stroke-width="0.15">1938.235</text>
<text x="408.3" y="15.1" font-size="8.6" fill="#089981" textLength="23.7" lengthAdjust="spacingAndGlyphs" stroke="#089981" stroke-width="0.15">+4.010</text>
<text x="435.5" y="15.1" font-size="8.6" fill="#089981" textLength="31.7" lengthAdjust="spacingAndGlyphs" stroke="#089981" stroke-width="0.15">(+0.21%)</text>
<rect x="5.7" y="22.6" width="42.8" height="15.2" rx="2.5" fill="#fff" stroke="#e58894" stroke-width="1.1"/>
<rect x="73.9" y="22.6" width="42.3" height="15.2" rx="2.5" fill="#fff" stroke="#8aa2ec" stroke-width="1.1"/>
<text x="11" y="33.8" font-size="9.2" fill="#e04a5a" textLength="27.9" lengthAdjust="spacingAndGlyphs">1938.07</text>
<text x="40.3" y="31.9" font-size="7.8" fill="#e04a5a" textLength="3.6" lengthAdjust="spacingAndGlyphs">0</text>
<text x="54.4" y="33.6" font-size="8.6" fill="#131722" textLength="13.6" lengthAdjust="spacingAndGlyphs" stroke="#131722" stroke-width="0.2">35.0</text>
<text x="79.5" y="33.8" font-size="9.2" fill="#3d66e8" textLength="27.9" lengthAdjust="spacingAndGlyphs">1938.42</text>
<text x="108.8" y="31.9" font-size="7.8" fill="#3d66e8" textLength="3.6" lengthAdjust="spacingAndGlyphs">0</text>
<text x="6.2" y="52.7" font-size="8.8" fill="#131722" textLength="10.7" lengthAdjust="spacingAndGlyphs" stroke="#131722" stroke-width="0.2">Vol</text>
<text x="23.1" y="52.7" font-size="8.8" fill="#22ab94" textLength="33.8" lengthAdjust="spacingAndGlyphs" stroke="#22ab94" stroke-width="0.15">127.471K</text>
<rect x="6.4" y="59.1" width="17.8" height="13.5" rx="2" fill="#fff" stroke="#e0e3eb" stroke-width="1"/>
<path d="M12.9 67.2 L15.3 64.8 L17.7 67.2" fill="none" stroke="#131722" stroke-width="1.2"/>
</svg>
</body></html>
